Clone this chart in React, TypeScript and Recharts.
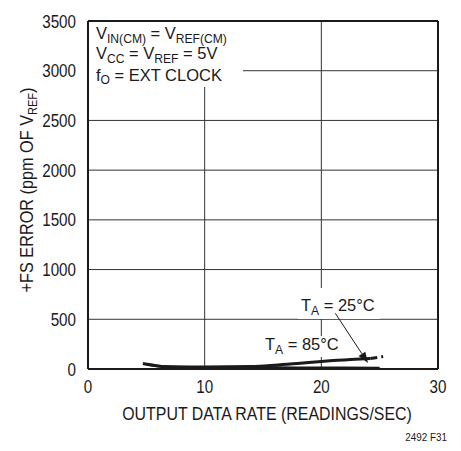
import { LineChart, Line, XAxis, YAxis, CartesianGrid, ReferenceLine } from 'recharts'

const FONT = "'Liberation Sans', Arial, sans-serif"
const INK = '#1a1a1a'

const xTicks = [0, 10, 20, 30]
const yTicks = [0, 500, 1000, 1500, 2000, 2500, 3000, 3500]

// T_A = 85°C, stays near zero
const rate85 = [5, 6, 8, 10, 14, 18, 22, 25]
const err85 = [45, 30, 20, 17, 15, 13, 12, 10]

// T_A = 25°C, rises toward the high end
const rate25 = [4.7, 5.5, 6.6, 10, 14, 16, 18.2, 20, 22.5, 24.2]
const err25 = [55, 40, 22, 20, 25, 38, 58, 75, 95, 105]

// dashed extension of the 25°C curve
const rate25Ext = [24.2, 25.3]
const err25Ext = [105, 125]

const zip = (xs: number[], ys: number[]) => xs.map((x, i) => ({ rate: x, err: ys[i] }))

const data85 = zip(rate85, err85)
const data25 = zip(rate25, err25)
const data25Ext = zip(rate25Ext, err25Ext)

// condensed look: Liberation Sans squeezed horizontally
function NText({ x, y, size = 18, sx = 0.88, anchor = 'start', rotate = 0, children }: any) {
  return (
    <text
      transform={`translate(${x} ${y}) rotate(${rotate}) scale(${sx} 1)`}
      x={0}
      y={0}
      fontSize={size}
      fontFamily={FONT}
      fill={INK}
      textAnchor={anchor}
    >
      {children}
    </text>
  )
}

function YTick({ x, y, payload }: any) {
  return (
    <NText x={x} y={y + 6.5} size={19} sx={0.8} anchor="end">
      {payload.value}
    </NText>
  )
}

function XTick({ x, y, payload }: any) {
  return (
    <NText x={x} y={y + 24} size={19} sx={0.8} anchor="middle">
      {payload.value}
    </NText>
  )
}

function Arrow(p: any) {
  const { x1, y1, x2, y2 } = p
  const a = Math.atan2(y2 - y1, x2 - x1)
  const L = 11
  const W = 4
  const bx = x2 - L * Math.cos(a)
  const by = y2 - L * Math.sin(a)
  const pts = `${x2},${y2} ${bx + W * Math.sin(a)},${by - W * Math.cos(a)} ${bx - W * Math.sin(a)},${by + W * Math.cos(a)}`
  return (
    <g>
      <line x1={x1} y1={y1} x2={bx} y2={by} stroke={INK} strokeWidth={1} />
      <polygon points={pts} fill={INK} />
    </g>
  )
}

function Notes() {
  const sub = { fontSize: 12.5 }
  const down = 3.5
  return (
    <g>
      <rect x={89} y={22} width={154} height={65} fill="#fff" />
      <rect x={298} y={288} width={82} height={31} fill="#fff" />
      <rect x={259} y={336} width={86} height={21} fill="#fff" />
      <NText x={96} y={39} size={17} sx={0.97}>
        V<tspan dy={down} {...sub}>IN(CM)</tspan>
        <tspan dy={-down}> = V</tspan>
        <tspan dy={down} {...sub}>REF(CM)</tspan>
      </NText>
      <NText x={96} y={59} size={17} sx={0.97}>
        V<tspan dy={down} {...sub}>CC</tspan>
        <tspan dy={-down}> = V</tspan>
        <tspan dy={down} {...sub}>REF</tspan>
        <tspan dy={-down}> = 5V</tspan>
      </NText>
      <NText x={96} y={80.5} size={17} sx={0.97}>
        f<tspan dy={down} {...sub}>O</tspan>
        <tspan dy={-down}> = EXT CLOCK</tspan>
      </NText>
      <NText x={301} y={311} size={17} sx={0.97}>
        T<tspan dy={down} {...sub}>A</tspan>
        <tspan dy={-down}> = 25°C</tspan>
      </NText>
      <NText x={265} y={350} size={17} sx={0.97}>
        T<tspan dy={down} {...sub}>A</tspan>
        <tspan dy={-down}> = 85°C</tspan>
      </NText>
      <NText x={267} y={420} size={18.5} sx={0.86} anchor="middle">
        OUTPUT DATA RATE (READINGS/SEC)
      </NText>
      <NText x={33} y={190} size={18.5} sx={0.88} anchor="middle" rotate={-90}>
        +FS ERROR (ppm OF V<tspan dy={down} {...sub}>REF</tspan>
        <tspan dy={-down}>)</tspan>
      </NText>
      <NText x={447} y={441} size={11} sx={0.9} anchor="end">
        2492 F31
      </NText>
    </g>
  )
}

export default function App() {
  return (
    <div style={{ position: 'absolute', left: 0, top: 0, background: '#fff' }}>
      <LineChart width={461} height={451} margin={{ top: 21, right: 23, left: 0, bottom: 0 }}>
        <CartesianGrid stroke="#333" strokeWidth={1} horizontalValues={yTicks} verticalValues={xTicks} />
        <XAxis
          type="number"
          dataKey="rate"
          domain={[0, 30]}
          ticks={xTicks}
          height={82}
          tick={<XTick />}
          tickLine={false}
          tickSize={0}
          tickMargin={0}
          axisLine={{ stroke: INK, strokeWidth: 2 }}
          allowDataOverflow
        />
        <YAxis
          type="number"
          dataKey="err"
          domain={[0, 3500]}
          ticks={yTicks}
          width={88}
          tick={<YTick />}
          tickLine={false}
          tickSize={0}
          tickMargin={12}
          axisLine={{ stroke: INK, strokeWidth: 2 }}
          interval={0}
        />
        <ReferenceLine x={30} stroke={INK} strokeWidth={2} />
        <ReferenceLine y={3500} stroke={INK} strokeWidth={2} />
        <Notes />
        <ReferenceLine
          segment={[{ x: 21.2, y: 560 }, { x: 24.0, y: 60 }]}
          shape={Arrow}
          ifOverflow="visible"
        />
        <Line data={data85} dataKey="err" type="monotone" stroke={INK} strokeWidth={2.5} dot={false} isAnimationActive={false} />
        <Line data={data25} dataKey="err" type="monotone" stroke={INK} strokeWidth={3} dot={false} isAnimationActive={false} />
        <Line data={data25Ext} dataKey="err" type="linear" stroke={INK} strokeWidth={3} strokeDasharray="7 4" dot={false} isAnimationActive={false} />
      </LineChart>
    </div>
  )
}
